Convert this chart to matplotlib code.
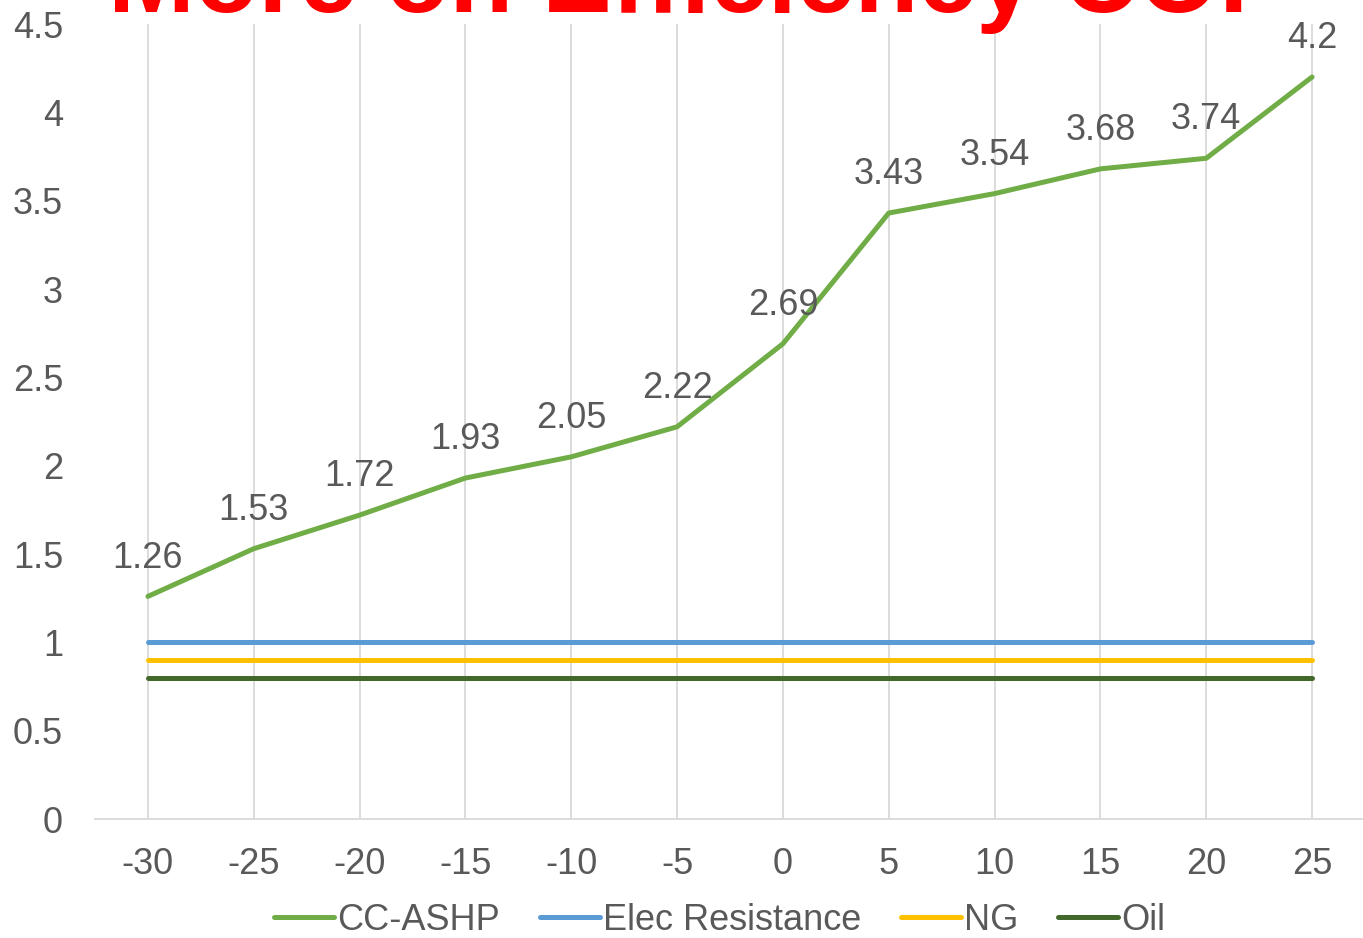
import matplotlib.pyplot as plt

plt.rcParams['font.family'] = ['Liberation Sans', 'DejaVu Sans']

temps = ['-30', '-25', '-20', '-15', '-10', '-5', '0', '5', '10', '15', '20', '25']
cc_ashp = [1.26, 1.53, 1.72, 1.93, 2.05, 2.22, 2.69, 3.43, 3.54, 3.68, 3.74, 4.2]
elec = [1] * 12
ng = [0.9] * 12
oil = [0.8] * 12

W, H = 1363, 938
fig = plt.figure(figsize=(W / 100, H / 100), dpi=100)
ax = fig.add_axes([95 / W, (H - 819) / H, (1365 - 95) / W, (819 - 24) / H])

x = range(len(temps))
ax.plot(x, cc_ashp, color='#70AD47', lw=3.6, label='CC-ASHP', solid_capstyle='round', zorder=5)
ax.plot(x, elec, color='#5B9BD5', lw=3.6, label='Elec Resistance', solid_capstyle='round', zorder=4)
ax.plot(x, ng, color='#FFC000', lw=3.6, label='NG', solid_capstyle='round', zorder=4)
ax.plot(x, oil, color='#43682B', lw=3.6, label='Oil', solid_capstyle='round', zorder=4)

# data labels on the heat pump line
for i, v in enumerate(cc_ashp):
    ax.annotate(f'{v:g}', (i, v), xytext=(0, 15), textcoords='offset points',
                ha='center', va='bottom', fontsize=26, color='#595959', zorder=6)

ax.set_xlim(-0.5, 11.5)
ax.set_ylim(0, 4.5)
ax.set_xticks(list(x))
ax.set_xticklabels(temps)
ax.set_yticks([0, 0.5, 1, 1.5, 2, 2.5, 3, 3.5, 4, 4.5])
ax.set_yticklabels(['0', '0.5', '1', '1.5', '2', '2.5', '3', '3.5', '4', '4.5'])
ax.tick_params(axis='both', length=0, labelsize=26, labelcolor='#595959')
ax.tick_params(axis='x', pad=20)
ax.tick_params(axis='y', pad=23)
ax.grid(axis='x', color='#D9D9D9', lw=1.3)
ax.set_axisbelow(True)
for s in ['top', 'right', 'left']:
    ax.spines[s].set_visible(False)
ax.spines['bottom'].set_color('#D9D9D9')
ax.spines['bottom'].set_linewidth(1.3)

fig.legend(loc='center', bbox_to_anchor=(720 / W, (H - 920) / H), ncol=4, frameon=False,
           fontsize=26, handlelength=1.65, handletextpad=0.1, columnspacing=1.1,
           labelcolor='#595959')

# title sits mostly above the canvas, as in the original slide crop
fig.text(698 / W, 1 - 12 / H, 'More on Efficiency COP', ha='center', va='baseline',
         fontsize=75, fontweight='bold', color='#FF0000')

fig.savefig('out.png', dpi=100)
